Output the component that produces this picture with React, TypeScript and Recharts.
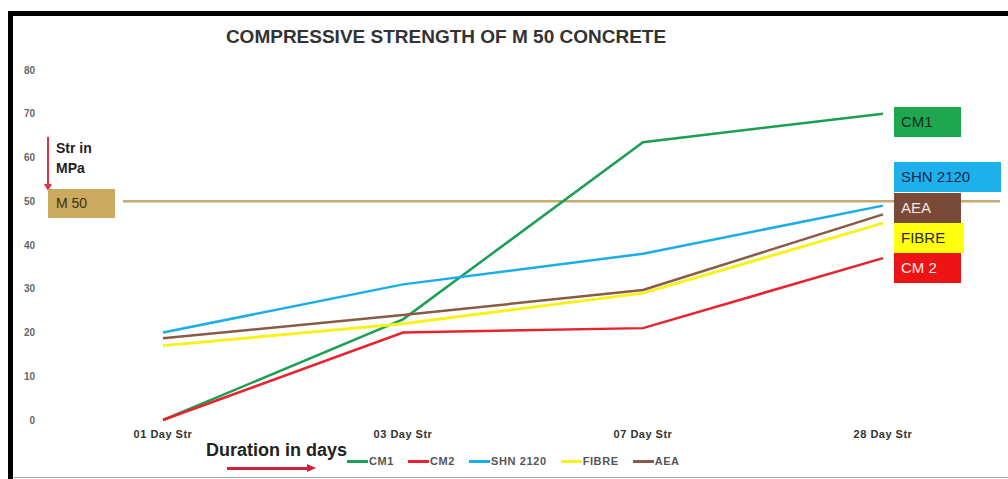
import { LineChart, Line, XAxis, YAxis, ReferenceLine } from 'recharts';

const categories = ['01 Day Str', '03 Day Str', '07 Day Str', '28 Day Str'];
const cm1 = [0, 23, 63.5, 70];
const cm2 = [0, 20, 21, 37];
const shn2120 = [20, 31, 38, 49];
const fibre = [17, 22, 29, 45];
const aea = [18.7, 24, 29.7, 47];
const yTicks = [0, 10, 20, 30, 40, 50, 60, 70, 80];
const targetStrength = 50;

const series = [
  { key: 'cm1', name: 'CM1', color: '#1b9f52', values: cm1 },
  { key: 'cm2', name: 'CM2', color: '#e8232e', values: cm2 },
  { key: 'shn', name: 'SHN 2120', color: '#1aaee6', values: shn2120 },
  { key: 'fibre', name: 'FIBRE', color: '#f6f21a', values: fibre },
  { key: 'aea', name: 'AEA', color: '#8a5a48', values: aea },
];

// end-of-line tags on the right
const endTags = [
  { text: 'CM1', bg: '#1ea651', fg: '#1d2a1d', top: 107, width: 67 },
  { text: 'SHN 2120', bg: '#1eb0ea', fg: '#102a50', top: 162, width: 107 },
  { text: 'AEA', bg: '#7a4a38', fg: '#f1e6e0', top: 193, width: 67 },
  { text: 'FIBRE', bg: '#ffff10', fg: '#2a2a10', top: 223, width: 70 },
  { text: 'CM 2', bg: '#ec1414', fg: '#fbe8e8', top: 253, width: 67 },
];

const chartData = categories.map((c, i) => {
  const row: any = { day: c };
  series.forEach((s) => (row[s.key] = s.values[i]));
  return row;
});

const FONT = '"Liberation Sans", Arial, sans-serif';

export default function App() {
  return (
    <div
      style={{
        position: 'absolute',
        left: 0,
        top: 0,
        width: 1008,
        height: 479,
        background: '#fff',
        overflow: 'hidden',
        fontFamily: FONT,
      }}
    >
      {/* frame */}
      <div style={{ position: 'absolute', left: 8, top: 11, right: 0, height: 5, background: '#000' }} />
      <div style={{ position: 'absolute', left: 8, top: 11, width: 5, bottom: 0, background: '#000' }} />
      <div style={{ position: 'absolute', left: 13, bottom: 1, right: 0, height: 1, background: '#aaa' }} />

      <LineChart
        width={1008}
        height={479}
        data={chartData}
        margin={{ top: 70, right: 8, left: 0, bottom: 0 }}
        style={{ position: 'absolute', left: 0, top: 0 }}
      >
        <XAxis
          dataKey="day"
          height={59}
          padding={{ left: 40, right: 117 }}
          axisLine={false}
          tickLine={false}
          tickSize={0}
          tickMargin={10}
          tick={{ fill: '#333', fontSize: 11, fontWeight: 700, letterSpacing: 0.5, fontFamily: FONT }}
        />
        <YAxis
          width={123}
          domain={[0, 80]}
          ticks={yTicks}
          axisLine={false}
          tickLine={false}
          tickSize={0}
          tickMargin={88}
          tick={{ fill: '#666', fontSize: 10, fontWeight: 700, fontFamily: FONT }}
        />
        <ReferenceLine y={targetStrength} stroke="#c9aa6e" strokeWidth={2.5} ifOverflow="extendDomain" />
        {series.map((s) => (
          <Line
            key={s.key}
            type="linear"
            dataKey={s.key}
            name={s.name}
            stroke={s.color}
            strokeWidth={s.key === 'fibre' ? 3 : 2.5}
            dot={false}
            activeDot={false}
            isAnimationActive={false}
          />
        ))}
      </LineChart>

      {/* title */}
      <div
        style={{
          position: 'absolute',
          left: 196,
          top: 26,
          width: 500,
          textAlign: 'center',
          fontSize: 19,
          fontWeight: 700,
          color: '#333',
          whiteSpace: 'nowrap',
        }}
      >
        COMPRESSIVE STRENGTH OF M 50 CONCRETE
      </div>

      {/* y annotation */}
      <div style={{ position: 'absolute', left: 47, top: 137, width: 2, height: 48, background: '#e0344a' }} />
      <div
        style={{
          position: 'absolute',
          left: 44,
          top: 184,
          width: 0,
          height: 0,
          borderLeft: '4px solid transparent',
          borderRight: '4px solid transparent',
          borderTop: '7px solid #e0344a',
        }}
      />
      <div
        style={{
          position: 'absolute',
          left: 56,
          top: 138,
          fontSize: 14,
          fontWeight: 700,
          lineHeight: '20px',
          color: '#222',
        }}
      >
        Str in
        <br />
        MPa
      </div>
      <div
        style={{
          position: 'absolute',
          left: 48,
          top: 189,
          width: 67,
          height: 29,
          background: '#c9aa5e',
          color: '#3a3010',
          fontSize: 14,
          lineHeight: '29px',
          paddingLeft: 8,
          boxSizing: 'border-box',
        }}
      >
        M 50
      </div>

      {/* end tags */}
      {endTags.map((t) => (
        <div
          key={t.text}
          style={{
            position: 'absolute',
            left: 894,
            top: t.top,
            width: t.width,
            height: 30,
            background: t.bg,
            color: t.fg,
            fontSize: 15,
            lineHeight: '30px',
            paddingLeft: 7,
            boxSizing: 'border-box',
            whiteSpace: 'nowrap',
          }}
        >
          {t.text}
        </div>
      ))}

      {/* x annotation */}
      <div
        style={{
          position: 'absolute',
          left: 206,
          top: 440,
          fontSize: 18,
          fontWeight: 700,
          color: '#222',
          whiteSpace: 'nowrap',
        }}
      >
        Duration in days
      </div>
      <div style={{ position: 'absolute', left: 227, top: 467, width: 82, height: 3, background: '#d0203a' }} />
      <div
        style={{
          position: 'absolute',
          left: 307,
          top: 464,
          width: 0,
          height: 0,
          borderTop: '4.5px solid transparent',
          borderBottom: '4.5px solid transparent',
          borderLeft: '9px solid #d0203a',
        }}
      />

      {/* legend */}
      <div
        style={{
          position: 'absolute',
          left: 347,
          top: 455,
          display: 'flex',
          gap: 14,
          alignItems: 'center',
          fontSize: 11,
          fontWeight: 700,
          letterSpacing: 0.6,
          color: '#555',
        }}
      >
        {series.map((s) => (
          <div key={s.key} style={{ display: 'flex', alignItems: 'center', gap: 1 }}>
            <span style={{ display: 'inline-block', width: 21, height: 3, background: s.color }} />
            <span>{s.name}</span>
          </div>
        ))}
      </div>
    </div>
  );
}
